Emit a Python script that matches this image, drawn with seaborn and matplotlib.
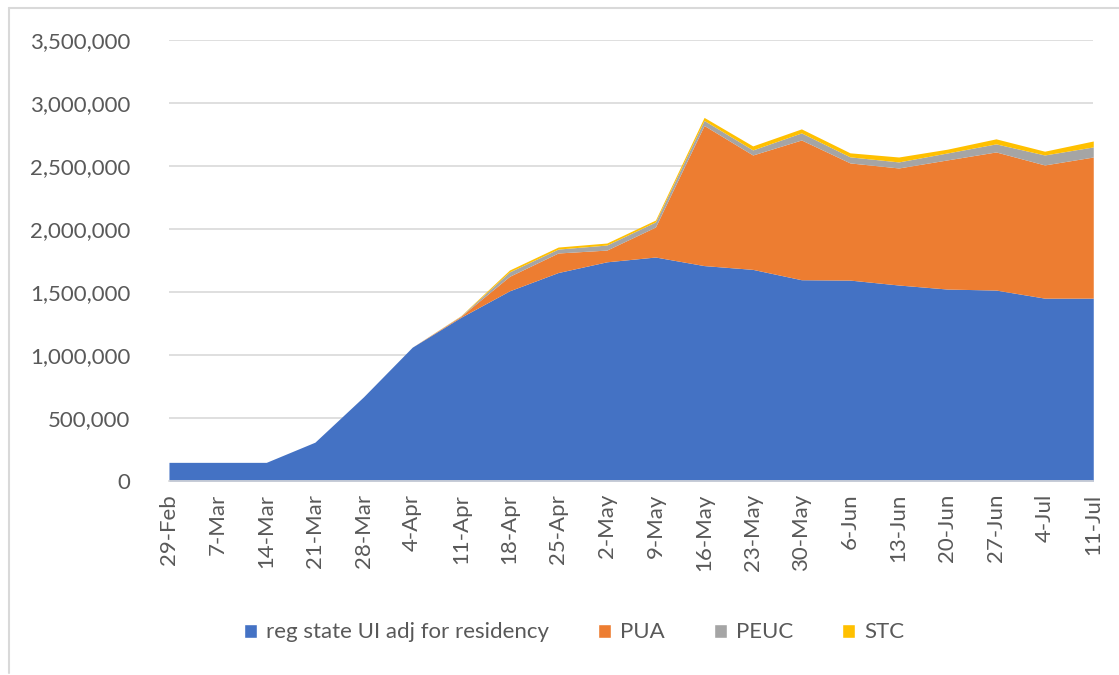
import seaborn as sns
import matplotlib.pyplot as plt
import matplotlib.ticker as mticker
from matplotlib.lines import Line2D
from matplotlib.patches import Patch
import numpy as np
import pandas as pd

# ----------------------------
# Data
# ----------------------------
weeks = ["29-Feb", "7-Mar", "14-Mar", "21-Mar", "28-Mar", "4-Apr", "11-Apr",
         "18-Apr", "25-Apr", "2-May", "9-May", "16-May", "23-May", "30-May",
         "6-Jun", "13-Jun", "20-Jun", "27-Jun", "4-Jul", "11-Jul"]

reg_state_ui = [150000, 150000, 150000, 310000, 670000, 1063000, 1300000,
                1510000, 1655000, 1740000, 1778000, 1710000, 1680000, 1598000,
                1595000, 1556000, 1524000, 1516000, 1452000, 1452000]
pua = [0, 0, 0, 0, 0, 0, 8000,
       115000, 155000, 93000, 238000, 1111000, 907000, 1108000,
       929000, 928000, 1024000, 1095000, 1056000, 1119000]
peuc = [0, 0, 0, 0, 0, 0, 3000,
        35000, 31000, 40000, 40000, 40000, 40000, 56000,
        48000, 48000, 55000, 64000, 79000, 80000]
stc = [0, 0, 0, 0, 0, 0, 2000,
       15000, 16000, 16000, 15000, 24000, 32000, 32000,
       32000, 39000, 30000, 40000, 30000, 47000]

series_names = ["reg state UI adj for residency", "PUA", "PEUC", "STC"]
colors = ["#4472C4", "#ED7D31", "#A5A5A5", "#FFC000"]

df = pd.DataFrame({"Week": weeks, series_names[0]: reg_state_ui,
                   "PUA": pua, "PEUC": peuc, "STC": stc})

# ----------------------------
# Plot
# ----------------------------
sns.set_style("white")
plt.rcParams["font.family"] = ["Lato", "DejaVu Sans"]

fig = plt.figure(figsize=(11.19, 6.75), dpi=100)
ax = fig.add_axes([0.151, 0.287, 0.826, 0.654])

x = np.arange(len(df))
ax.stackplot(x, *[df[s] for s in series_names], colors=colors,
             labels=series_names, linewidth=0)

ax.set_xlim(0, len(df) - 1)
ax.set_ylim(0, 3500000)
ax.yaxis.set_major_locator(mticker.MultipleLocator(500000))
ax.yaxis.set_major_formatter(mticker.FuncFormatter(lambda v, p: f"{int(v):,}"))
ax.grid(axis="y", color="#D9D9D9", linewidth=1.2)
ax.set_axisbelow(True)

ax.set_xticks(x)
ax.set_xticklabels(df["Week"], rotation=90)
ax.tick_params(axis="x", colors="#595959", labelsize=16, length=6,
               width=1, color="#D9D9D9", pad=3)
ax.tick_params(axis="y", colors="#595959", labelsize=16, length=0, pad=28)

sns.despine(ax=ax, left=True)
ax.spines["bottom"].set_color("#D9D9D9")
ax.spines["bottom"].set_linewidth(1.2)

handles = [Patch(facecolor=c, label=n) for c, n in zip(colors, series_names)]
fig.legend(handles=handles, loc="center", bbox_to_anchor=(0.513, 0.063),
           ncol=4, frameon=False, fontsize=16, handlelength=0.6,
           handleheight=0.6, handletextpad=0.4, columnspacing=2.2,
           labelcolor="#595959")

# chart area border (top and left edges visible in the reference)
fig.add_artist(Line2D([0.008, 0.008], [0.003, 0.988], color="#D9D9D9",
                      linewidth=1.5, transform=fig.transFigure))
fig.add_artist(Line2D([0.008, 1.0], [0.988, 0.988], color="#D9D9D9",
                      linewidth=1.5, transform=fig.transFigure))

fig.savefig("out.png", dpi=100)
plt.close(fig)
